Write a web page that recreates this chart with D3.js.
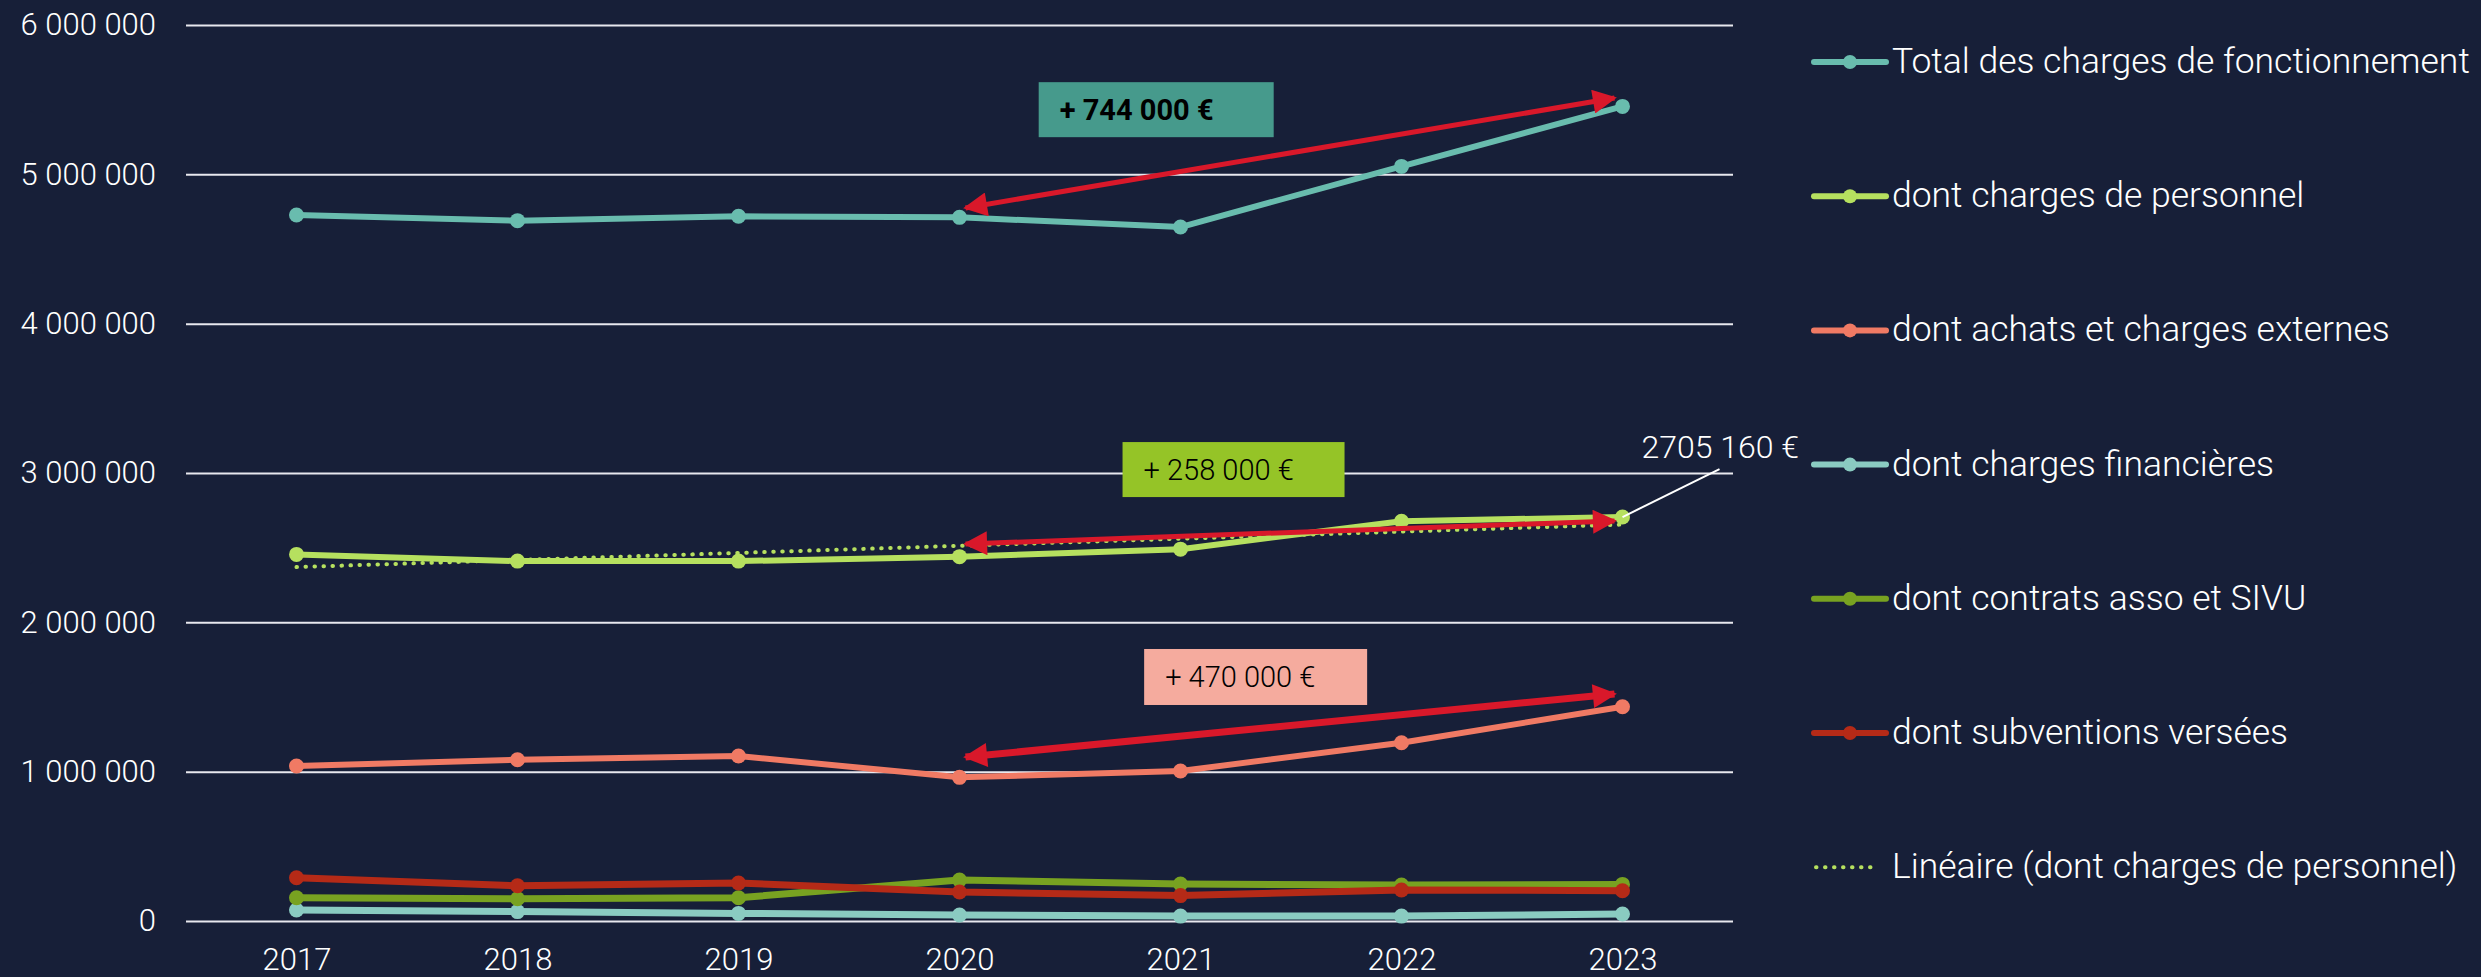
<!DOCTYPE html>
<html>
<head>
<meta charset="utf-8">
<script src="https://cdn.jsdelivr.net/npm/d3@7"></script>
<style>
  html, body { margin: 0; padding: 0; background: #171f38; }
  svg { display: block; font-family: Roboto, sans-serif; font-weight: 300; }
</style>
</head>
<body>
<svg id="container" width="2481" height="977"></svg>
<script>
const years = ['2017', '2018', '2019', '2020', '2021', '2022', '2023']
const totalCharges = [4728000, 4690000, 4719000, 4712000, 4647000, 5053000, 5455000]
const chargesPersonnel = [2455000, 2410000, 2410000, 2440000, 2490000, 2677000, 2705160]
const achatsExternes = [1038000, 1080000, 1105000, 962000, 1004000, 1194000, 1435000]
const chargesFinancieres = [74000, 63000, 51000, 40000, 33000, 33000, 47000]
const contratsAsso = [156000, 149000, 156000, 275000, 248000, 241000, 245000]
const subventions = [290000, 236000, 254000, 194000, 170000, 208000, 203000]
// trend line of personnel, start and end as read on the chart
const trendYears = [2017, 2023]
const trendPersonnel = [2370000, 2655000]
const yTicks = [0, 1000000, 2000000, 3000000, 4000000, 5000000, 6000000]

const series = [
  { name: 'Total des charges de fonctionnement', values: totalCharges, color: '#69bcae', width: 6 },
  { name: 'dont charges de personnel', values: chargesPersonnel, color: '#b6e05f', width: 6 },
  { name: 'dont achats et charges externes', values: achatsExternes, color: '#f07a64', width: 6 },
  { name: 'dont charges financières', values: chargesFinancieres, color: '#8acbc1', width: 7 },
  { name: 'dont contrats asso et SIVU', values: contratsAsso, color: '#78a221', width: 7 },
  { name: 'dont subventions versées', values: subventions, color: '#b52a17', width: 7 }
]

// annotations: double arrows between two years, label boxes
const arrows = [
  { from: [2020, 4775000], to: [2023, 5511000], width: 5 },
  { from: [2020, 2525000], to: [2023, 2679000], width: 5 },
  { from: [2020, 1098000], to: [2023, 1520000], width: 7 }
]
const boxes = [
  { text: '+ 744 000 €', year: 2020.89, value: 5433000, w: 235, h: 55, fill: '#469a8c', bold: true },
  { text: '+ 258 000 €', year: 2021.24, value: 3023000, w: 222, h: 55, fill: '#95c427', bold: false },
  { text: '+ 470 000 €', year: 2021.34, value: 1634000, w: 223, h: 56, fill: '#f5ab9e', bold: false }
]

const svg = d3.select('#container')
const plotLeft = 186, plotRight = 1733, plotTop = 25, plotBottom = 921

const x = d3.scalePoint().domain(years).range([plotLeft, plotRight]).padding(0.5)
const y = d3.scaleLinear().domain([0, 6000000]).range([plotBottom, plotTop])
const xAt = (yr) => x('2017') + (yr - 2017) * x.step()

const fr = d3.formatLocale({ thousands: ' ', grouping: [3], decimal: ',', currency: ['', ' €'] })

svg.append('rect').attr('width', 2481).attr('height', 977).attr('fill', '#171f38')

// y axis + grid
const yAxis = svg.append('g')
  .attr('transform', `translate(${plotLeft},0)`)
  .call(d3.axisLeft(y).tickValues(yTicks).tickFormat(fr.format(',')).tickSizeInner(0).tickSizeOuter(0).tickPadding(30))
yAxis.select('.domain').remove()
yAxis.selectAll('.tick line')
  .attr('x1', 0)
  .attr('x2', plotRight - plotLeft)
  .attr('stroke', '#e8e8ee')
  .attr('stroke-width', 2)
yAxis.selectAll('.tick text').attr('fill', '#ffffff').attr('font-size', 31).attr('font-family', 'Roboto').attr('font-weight', 300)

// x axis
const xAxis = svg.append('g')
  .attr('transform', `translate(0,${plotBottom})`)
  .call(d3.axisBottom(x).tickSize(0).tickPadding(27))
xAxis.select('.domain').remove()
xAxis.selectAll('.tick text').attr('fill', '#ffffff').attr('font-size', 31).attr('font-family', 'Roboto').attr('font-weight', 300)

// trend line
svg.append('path')
  .datum(trendYears.map((yr, i) => [xAt(yr), y(trendPersonnel[i])]))
  .attr('d', d3.line())
  .attr('fill', 'none')
  .attr('stroke', '#b6e05f')
  .attr('stroke-width', 4)
  .attr('stroke-linecap', 'round')
  .attr('stroke-dasharray', '0.5 8.5')

const line = d3.line().x((d, i) => x(years[i])).y((d) => y(d))

const seriesG = svg.append('g').selectAll('g')
  .data(series)
  .enter()
  .append('g')

seriesG.append('path')
  .attr('d', (d) => line(d.values))
  .attr('fill', 'none')
  .attr('stroke', (d) => d.color)
  .attr('stroke-width', (d) => d.width)
  .attr('stroke-linejoin', 'round')

seriesG.selectAll('circle')
  .data((d) => d.values.map((v, i) => ({ v, i, color: d.color })))
  .enter()
  .append('circle')
  .attr('cx', (d) => x(years[d.i]))
  .attr('cy', (d) => y(d.v))
  .attr('r', 7.5)
  .attr('fill', (d) => d.color)

// arrow markers
const defs = svg.append('defs')
defs.append('marker')
  .attr('id', 'arrowhead')
  .attr('viewBox', '0 0 10 10')
  .attr('refX', 9)
  .attr('refY', 5)
  .attr('markerUnits', 'userSpaceOnUse')
  .attr('markerWidth', 26)
  .attr('markerHeight', 24)
  .attr('orient', 'auto-start-reverse')
  .append('path')
  .attr('d', 'M0,0 L10,5 L0,10 Z')
  .attr('fill', '#d9182a')

svg.append('g').selectAll('line')
  .data(arrows)
  .enter()
  .append('line')
  .attr('x1', (d) => xAt(d.from[0]) + 6)
  .attr('y1', (d) => y(d.from[1]))
  .attr('x2', (d) => xAt(d.to[0]) - 8)
  .attr('y2', (d) => y(d.to[1]))
  .attr('stroke', '#d9182a')
  .attr('stroke-width', (d) => d.width)
  .attr('marker-start', 'url(#arrowhead)')
  .attr('marker-end', 'url(#arrowhead)')

// label boxes
const boxG = svg.append('g').selectAll('g')
  .data(boxes)
  .enter()
  .append('g')
  .attr('transform', (d) => `translate(${xAt(d.year) - d.w / 2},${y(d.value) - d.h / 2})`)

boxG.append('rect')
  .attr('width', (d) => d.w)
  .attr('height', (d) => d.h)
  .attr('fill', (d) => d.fill)

boxG.append('text')
  .attr('x', 21)
  .attr('y', (d) => d.h / 2 + 10)
  .attr('font-size', 29)
  .attr('font-weight', (d) => (d.bold ? 700 : 300))
  .attr('fill', '#000000')
  .text((d) => d.text)

// data label for last personnel point
const lastX = x('2023'), lastY = y(chargesPersonnel[6])
svg.append('line')
  .attr('x1', lastX).attr('y1', lastY)
  .attr('x2', lastX + 97).attr('y2', lastY - 48)
  .attr('stroke', '#ffffff')
  .attr('stroke-width', 2)
svg.append('text')
  .attr('x', lastX + 19)
  .attr('y', lastY - 59)
  .attr('font-size', 32)
  .attr('fill', '#ffffff')
  .text('2705 160 €')

// legend
const legendItems = series.map((s) => ({ name: s.name, color: s.color, dotted: false }))
  .concat([{ name: 'Linéaire (dont charges de personnel)', color: '#b6e05f', dotted: true }])

const legend = svg.append('g').selectAll('g')
  .data(legendItems)
  .enter()
  .append('g')
  .attr('transform', (d, i) => `translate(1814,${62 + i * 134.2})`)

legend.filter((d) => !d.dotted).append('line')
  .attr('x1', 0).attr('x2', 72)
  .attr('stroke', (d) => d.color)
  .attr('stroke-width', 6)
  .attr('stroke-linecap', 'round')
legend.filter((d) => !d.dotted).append('circle')
  .attr('cx', 36)
  .attr('r', 7)
  .attr('fill', (d) => d.color)
legend.filter((d) => d.dotted).append('line')
  .attr('x1', 2).attr('x2', 64)
  .attr('stroke', (d) => d.color)
  .attr('stroke-width', 4)
  .attr('stroke-linecap', 'round')
  .attr('stroke-dasharray', '0.5 8.5')

const legendText = legend.append('text')
  .attr('x', 78)
  .attr('y', 11)
  .attr('font-size', 31)
  .attr('fill', '#ffffff')
  .text((d) => d.name)

// the first entry spans about 580px in the original; size the legend font to that
const firstWidth = legendText.node().getComputedTextLength()
const legendSize = Math.max(28, Math.min(36, 31 * 578 / firstWidth))
legendText.attr('font-size', legendSize)
</script>
</body>
</html>
